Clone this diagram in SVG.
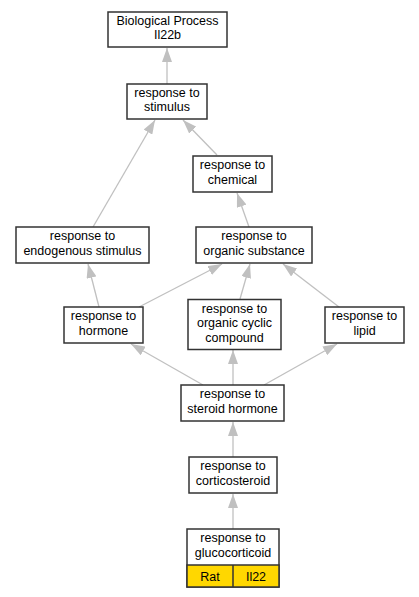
<svg xmlns="http://www.w3.org/2000/svg" width="419" height="597" viewBox="0 0 419 597">
<style>
.box{fill:#fff;stroke:#333;stroke-width:1.5}
.t{font-family:"Liberation Sans",Arial,sans-serif;font-size:12.5px;fill:#000;text-anchor:middle}
.e{stroke:#c0c0c0;stroke-width:1.3;fill:none;marker-end:url(#ah)}
</style>
<defs>
<marker id="ah" viewBox="0 0 14 10" refX="14" refY="5" markerWidth="14" markerHeight="10" markerUnits="userSpaceOnUse" orient="auto">
<path d="M0,0 L14,5 L0,10 z" fill="#c0c0c0"/>
</marker>
</defs>
<rect width="419" height="597" fill="#fff"/>
<g id="edges">
<line class="e" x1="167" y1="84" x2="167" y2="48"/>
<line class="e" x1="217" y1="155" x2="183" y2="120"/>
<line class="e" x1="93" y1="227" x2="155" y2="120"/>
<line class="e" x1="249" y1="227" x2="237" y2="193"/>
<line class="e" x1="99" y1="307" x2="88" y2="264"/>
<line class="e" x1="139" y1="307" x2="222" y2="264"/>
<line class="e" x1="240" y1="299" x2="250" y2="264"/>
<line class="e" x1="339" y1="307" x2="283" y2="264"/>
<line class="e" x1="203" y1="385" x2="131" y2="344"/>
<line class="e" x1="233" y1="385" x2="233" y2="350"/>
<line class="e" x1="264" y1="385" x2="337" y2="344"/>
<line class="e" x1="233" y1="457" x2="233" y2="422"/>
<line class="e" x1="233" y1="529" x2="233" y2="494"/>
</g>
<g id="n_bp">
<rect class="box" x="108" y="12" width="119" height="35"/>
<text class="t" x="167.5" y="24.75">Biological Process</text>
<text class="t" x="167.5" y="39.25">Il22b</text>
</g>
<g id="n_stimulus">
<rect class="box" x="127" y="84" width="80" height="35"/>
<text class="t" x="167" y="96.75">response to</text>
<text class="t" x="167" y="111.25">stimulus</text>
</g>
<g id="n_chemical">
<rect class="box" x="193" y="156" width="79" height="36"/>
<text class="t" x="232.5" y="169.25">response to</text>
<text class="t" x="232.5" y="183.75">chemical</text>
</g>
<g id="n_endogenous">
<rect class="box" x="16" y="227" width="133" height="36"/>
<text class="t" x="82.5" y="240.25">response to</text>
<text class="t" x="82.5" y="254.75">endogenous stimulus</text>
</g>
<g id="n_organic_substance">
<rect class="box" x="196" y="227" width="116" height="36"/>
<text class="t" x="254" y="240.25">response to</text>
<text class="t" x="254" y="254.75">organic substance</text>
</g>
<g id="n_hormone">
<rect class="box" x="64" y="307" width="79" height="36"/>
<text class="t" x="103.5" y="320.25">response to</text>
<text class="t" x="103.5" y="334.75">hormone</text>
</g>
<g id="n_organic_cyclic">
<rect class="box" x="188" y="299.5" width="93" height="50"/>
<text class="t" x="234.5" y="312.5">response to</text>
<text class="t" x="234.5" y="327">organic cyclic</text>
<text class="t" x="234.5" y="341.5">compound</text>
</g>
<g id="n_lipid">
<rect class="box" x="325" y="307" width="79" height="36"/>
<text class="t" x="364.5" y="320.25">response to</text>
<text class="t" x="364.5" y="334.75">lipid</text>
</g>
<g id="n_steroid">
<rect class="box" x="181" y="385" width="103" height="36"/>
<text class="t" x="232.5" y="398.25">response to</text>
<text class="t" x="232.5" y="412.75">steroid hormone</text>
</g>
<g id="n_corticosteroid">
<rect class="box" x="189" y="457" width="88" height="36"/>
<text class="t" x="233" y="470.25">response to</text>
<text class="t" x="233" y="484.75">corticosteroid</text>
</g>
<g id="n_glucocorticoid">
<rect class="box" x="187" y="529" width="92" height="58"/>
<rect x="187" y="565" width="92" height="22" fill="#ffd700" stroke="#333" stroke-width="1.5"/>
<line x1="233" y1="565" x2="233" y2="587" stroke="#333" stroke-width="1.5"/>
<text class="t" x="233" y="542.25">response to</text>
<text class="t" x="233" y="556.75">glucocorticoid</text>
<text class="t" x="210" y="580.5">Rat</text>
<text class="t" x="256" y="580.5">Il22</text>
</g>
</svg>
